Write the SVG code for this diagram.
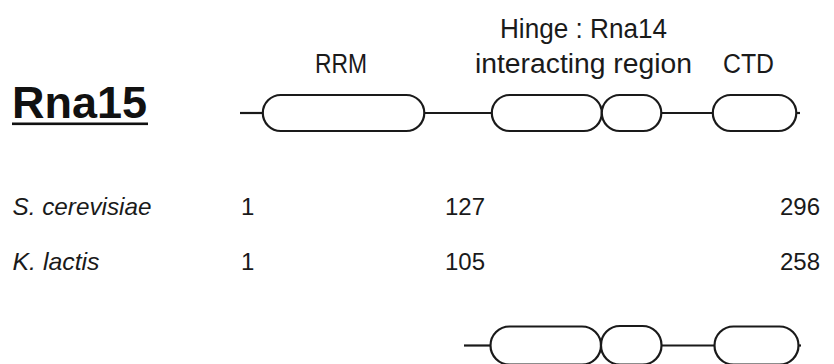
<svg xmlns="http://www.w3.org/2000/svg" width="834" height="364" viewBox="0 0 834 364">
  <style>
    .dom { fill: #ffffff; stroke: #1a1a1a; stroke-width: 2.2; }
    .ln { stroke: #1a1a1a; stroke-width: 2.2; fill: none; }
    .lbl { font-family: "Liberation Sans", Arial, sans-serif; font-size: 27px; fill: #1a1a1a; }
    .num { font-family: "Liberation Sans", Arial, sans-serif; font-size: 24px; fill: #1a1a1a; }
    .sp { font-family: "Liberation Sans", Arial, sans-serif; font-size: 24px; font-style: italic; fill: #1a1a1a; }
    .title { font-family: "Liberation Sans", Arial, sans-serif; font-size: 44px; font-weight: bold; fill: #111111; }
  </style>
  <rect x="0" y="0" width="834" height="364" fill="#ffffff"/>

  <g id="title">
    <text class="title" x="12" y="118" textLength="135" lengthAdjust="spacingAndGlyphs">Rna15</text>
    <rect x="12" y="122.5" width="136" height="2.6" fill="#111111"/>
  </g>

  <g id="labels">
    <text class="lbl" x="315" y="73" textLength="52" lengthAdjust="spacingAndGlyphs">RRM</text>
    <text class="lbl" x="500" y="38" textLength="167" lengthAdjust="spacingAndGlyphs">Hinge : Rna14</text>
    <text class="lbl" x="475" y="73" textLength="217" lengthAdjust="spacingAndGlyphs">interacting region</text>
    <text class="lbl" x="723" y="73" textLength="51" lengthAdjust="spacingAndGlyphs">CTD</text>
  </g>

  <g id="connectors">
    <line class="ln" x1="240" y1="113" x2="263" y2="113"/>
    <line class="ln" x1="424" y1="113" x2="492" y2="113"/>
    <line class="ln" x1="661" y1="113" x2="713" y2="113"/>
    <line class="ln" x1="796" y1="113" x2="800" y2="113"/>
    <line class="ln" x1="464" y1="345.5" x2="491" y2="345.5"/>
    <line class="ln" x1="661" y1="345.5" x2="715" y2="345.5"/>
    <line class="ln" x1="798" y1="345.5" x2="801" y2="345.5"/>
  </g>

  <g id="rrm">
    <rect class="dom" x="262.8" y="95" width="161.5" height="36" rx="18" ry="18"/>
  </g>
  <g id="hinge">
    <rect class="dom" x="491.8" y="95" width="110" height="36" rx="18" ry="18"/>
    <rect class="dom" x="601.8" y="95" width="59.5" height="36" rx="18" ry="18"/>
  </g>
  <g id="ctd">
    <rect class="dom" x="712.8" y="95" width="83.5" height="36" rx="18" ry="18"/>
  </g>

  <g id="species">
    <text class="sp" x="12.5" y="215" textLength="139" lengthAdjust="spacingAndGlyphs">S. cerevisiae</text>
    <text class="sp" x="12.5" y="270" textLength="87" lengthAdjust="spacingAndGlyphs">K. lactis</text>
  </g>
  <g id="numbers">
    <text class="num" x="241" y="215">1</text>
    <text class="num" x="445" y="215">127</text>
    <text class="num" x="780" y="215">296</text>
    <text class="num" x="241" y="270">1</text>
    <text class="num" x="445" y="270">105</text>
    <text class="num" x="780" y="270">258</text>
  </g>

  <g id="hinge-bottom">
    <rect class="dom" x="490.5" y="326.5" width="110.5" height="38" rx="19" ry="19"/>
    <rect class="dom" x="601" y="326" width="60.5" height="38.5" rx="19" ry="19"/>
  </g>
  <g id="ctd-bottom">
    <rect class="dom" x="714.5" y="326.5" width="84" height="38" rx="19" ry="19"/>
  </g>
</svg>
